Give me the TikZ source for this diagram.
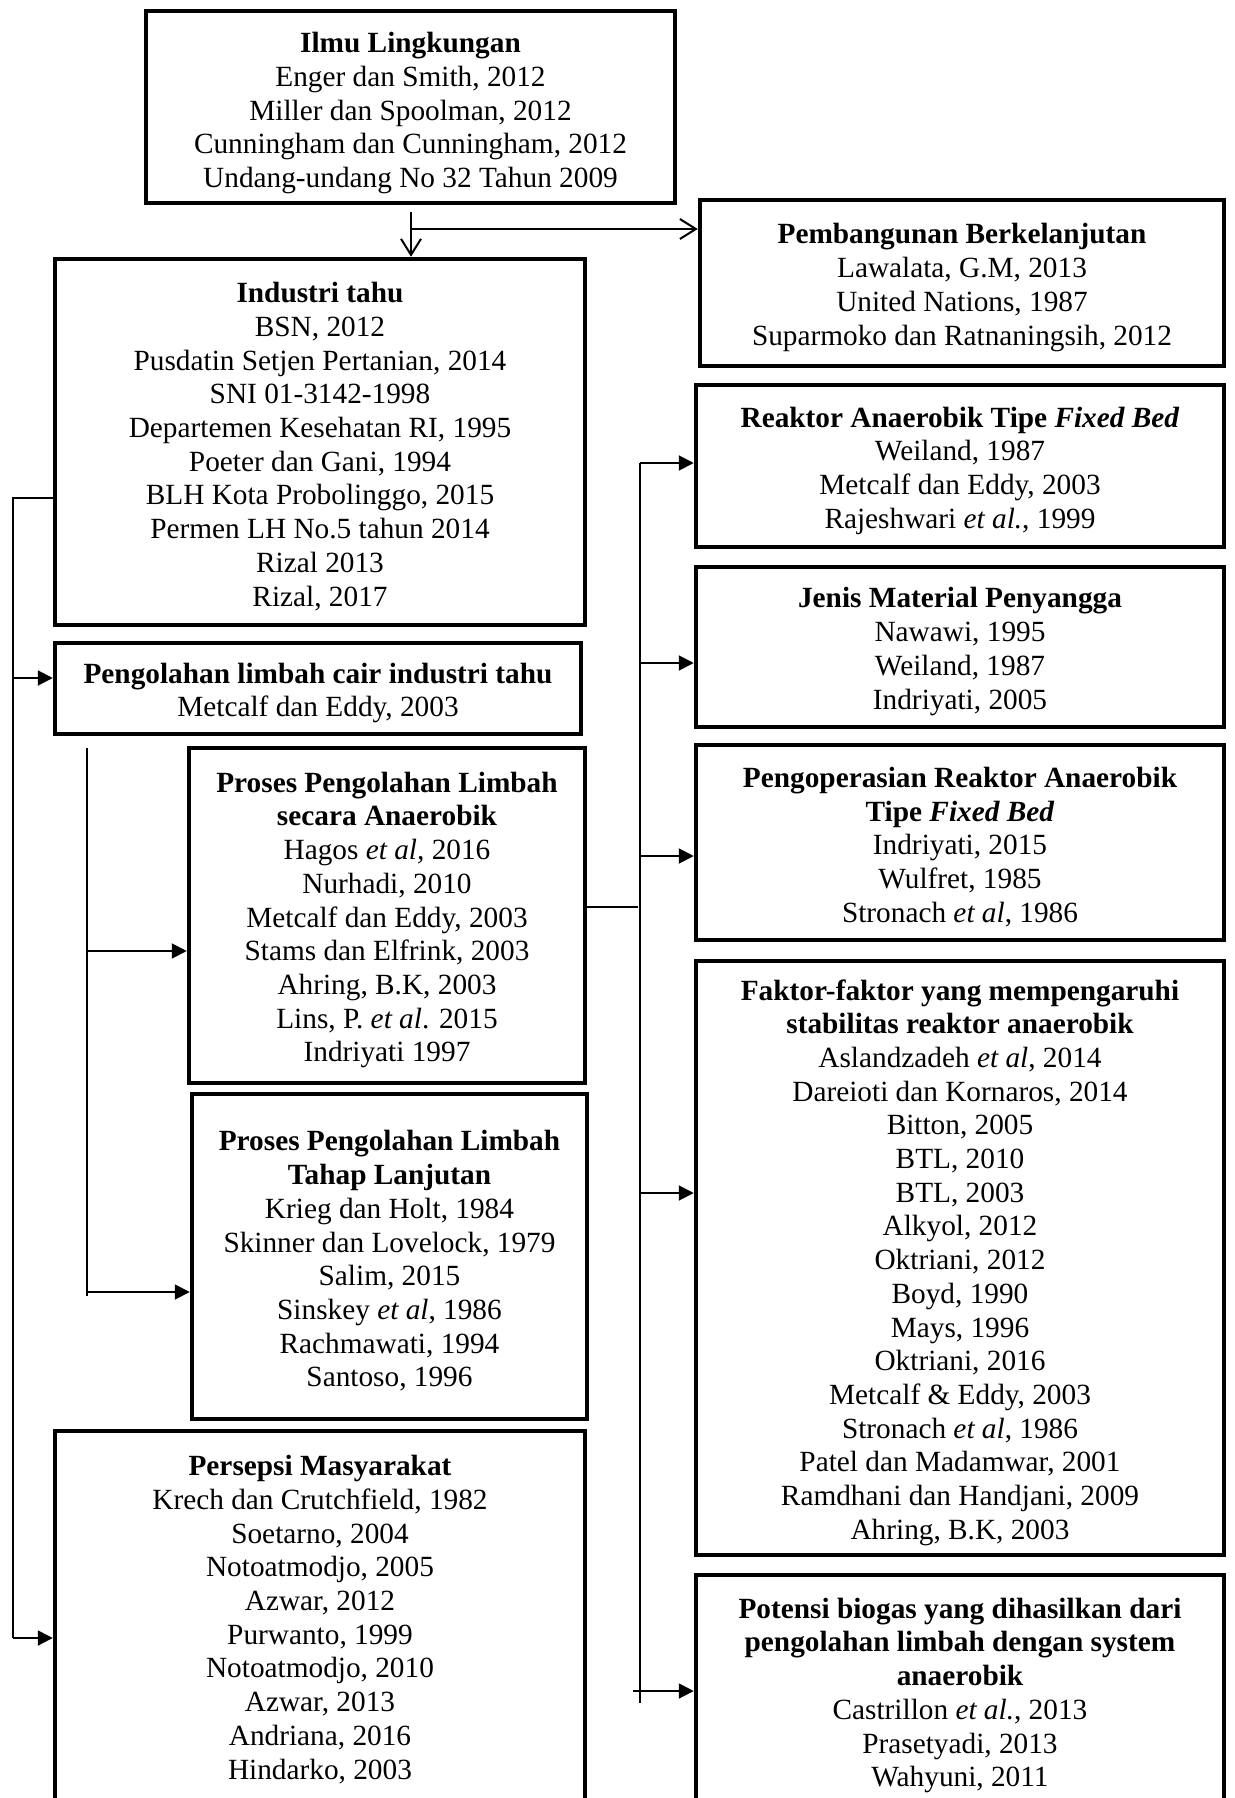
\documentclass[tikz,border=0pt]{standalone}
\usepackage{fontspec}
\setmainfont{Liberation Serif}
\usetikzlibrary{arrows.meta}

\tikzset{
  frame/.style={draw, line width=4.5pt, inner sep=0pt},
  reftext/.style={inner sep=0pt, align=center, yshift=-4.5pt,
    font=\fontsize{29.3}{33.7}\selectfont},
  link/.style={line width=2pt},
  solidarrow/.style={link, -{Triangle[length=15pt,width=15pt]}},
  openarrow/.style={link, -{Straight Barb[length=16pt,width=20pt,line width=2pt]}}
}

\begin{document}
\begin{tikzpicture}[x=1pt,y=-1pt]
\useasboundingbox (0,0) rectangle (1234,1798);
\clip (0,0) rectangle (1234,1798);

% top level
\node[frame, minimum width=529pt, minimum height=192pt] (ilmu) at (410.5,107) {};
\node[reftext, yshift=-1.5pt] (ilmu-t) at (ilmu.center)
  {\textbf{Ilmu Lingkungan}\\Enger dan Smith, 2012\\Miller dan Spoolman, 2012\\
   Cunningham dan Cunningham, 2012\\Undang-undang No 32 Tahun 2009};

\node[frame, minimum width=524pt, minimum height=166pt] (pemb) at (962,283) {};
\node[reftext] (pemb-t) at (pemb.center)
  {\textbf{Pembangunan Berkelanjutan}\\Lawalata, G.M, 2013\\United Nations, 1987\\
   Suparmoko dan Ratnaningsih, 2012};

% left column
\node[frame, minimum width=530pt, minimum height=366pt] (ind) at (320,442) {};
\node[reftext] (ind-t) at (ind.center)
  {\textbf{Industri tahu}\\BSN, 2012\\Pusdatin Setjen Pertanian, 2014\\SNI 01-3142-1998\\
   Departemen Kesehatan RI, 1995\\Poeter dan Gani, 1994\\BLH Kota Probolinggo, 2015\\
   Permen LH No.5 tahun 2014\\Rizal 2013\\Rizal, 2017};

\node[frame, minimum width=526pt, minimum height=91pt] (peng) at (318,688.5) {};
\node[reftext] (peng-t) at (peng.center)
  {\textbf{Pengolahan limbah cair industri tahu}\\Metcalf dan Eddy, 2003};

\node[frame, minimum width=396pt, minimum height=335pt] (anae) at (387,915.5) {};
\node[reftext] (anae-t) at (anae.center)
  {\textbf{Proses Pengolahan Limbah}\\\textbf{secara Anaerobik}\\Hagos \textit{et al,} 2016\\
   Nurhadi, 2010\\Metcalf dan Eddy, 2003\\Stams dan Elfrink, 2003\\Ahring, B.K, 2003\\
   Lins, P. \textit{et al}. 2015\\Indriyati 1997};

\node[frame, minimum width=395pt, minimum height=325pt] (lanj) at (389.5,1256.5) {};
\node[reftext] (lanj-t) at (lanj.center)
  {\textbf{Proses Pengolahan Limbah}\\\textbf{Tahap Lanjutan}\\Krieg dan Holt, 1984\\
   Skinner dan Lovelock, 1979\\Salim, 2015\\Sinskey \textit{et al}, 1986\\
   Rachmawati, 1994\\Santoso, 1996};

\node[frame, minimum width=530pt, minimum height=372pt] (pers) at (320,1617) {};
\node[reftext, yshift=2pt] (pers-t) at (pers.center)
  {\textbf{Persepsi Masyarakat}\\Krech dan Crutchfield, 1982\\Soetarno, 2004\\
   Notoatmodjo, 2005\\Azwar, 2012\\Purwanto, 1999\\Notoatmodjo, 2010\\Azwar, 2013\\
   Andriana, 2016\\Hindarko, 2003};

% right column
\node[frame, minimum width=528pt, minimum height=162pt] (fixb) at (960,466) {};
\node[reftext] (fixb-t) at (fixb.center)
  {\textbf{Reaktor Anaerobik Tipe \textit{Fixed Bed}}\\Weiland, 1987\\Metcalf dan Eddy, 2003\\
   Rajeshwari \textit{et al.}, 1999};

\node[frame, minimum width=528pt, minimum height=160pt] (jenis) at (960,647) {};
\node[reftext] (jenis-t) at (jenis.center)
  {\textbf{Jenis Material Penyangga}\\Nawawi, 1995\\Weiland, 1987\\Indriyati, 2005};

\node[frame, minimum width=528pt, minimum height=195pt] (pengop) at (960,842.5) {};
\node[reftext] (pengop-t) at (pengop.center)
  {\textbf{Pengoperasian Reaktor Anaerobik}\\\textbf{Tipe \textit{Fixed Bed}}\\
   Indriyati, 2015\\Wulfret, 1985\\Stronach \textit{et al}, 1986};

\node[frame, minimum width=528pt, minimum height=594pt] (faktor) at (960,1258) {};
\node[reftext] (faktor-t) at (faktor.center)
  {\textbf{Faktor-faktor yang mempengaruhi}\\\textbf{stabilitas reaktor anaerobik}\\
   Aslandzadeh \textit{et al}, 2014\\Dareioti dan Kornaros, 2014\\Bitton, 2005\\
   BTL, 2010\\BTL, 2003\\Alkyol, 2012\\Oktriani, 2012\\Boyd, 1990\\Mays, 1996\\
   Oktriani, 2016\\Metcalf \& Eddy, 2003\\Stronach \textit{et al}, 1986\\
   Patel dan Madamwar, 2001\\Ramdhani dan Handjani, 2009\\Ahring, B.K, 2003};

\node[frame, minimum width=528pt, minimum height=232pt] (potensi) at (960,1691) {};
\node[reftext] (potensi-t) at (potensi.center)
  {\textbf{Potensi biogas yang dihasilkan dari}\\\textbf{pengolahan limbah dengan system}\\
   \textbf{anaerobik}\\Castrillon \textit{et al.}, 2013\\Prasetyadi, 2013\\Wahyuni, 2011};

% split below the top box
\coordinate (split) at (411,212);
\coordinate (tee) at (411,229);
\draw[openarrow] (split) -- (split |- ind.north);
\draw[openarrow] (tee) -- (tee -| pemb.west);

% left trunk
\coordinate (ltop) at (13,498);
\coordinate (lbot) at (13,1638);
\draw[link] (ltop -| ind.west) -- (ltop) -- (lbot);
\draw[solidarrow] (13,678) -- (13,678 -| peng.west);
\draw[solidarrow] (lbot) -- (lbot -| pers.west);

% inner left trunk
\coordinate (itop) at (87,748);
\coordinate (ibot) at (87,1296);
\draw[link] (itop) -- (ibot);
\draw[solidarrow] (87,951) -- (87,951 -| anae.west);
\draw[solidarrow] (87,1292) -- (87,1292 -| lanj.west);

% right trunk
\coordinate (rtop) at (640,463);
\coordinate (rbot) at (640,1703);
\draw[link] (anae.east |- 0,907) -- (638,907);
\draw[link] (rtop) -- (rbot);
\draw[solidarrow] (rtop) -- (rtop -| fixb.west);
\draw[solidarrow] (640,663) -- (640,663 -| jenis.west);
\draw[solidarrow] (640,856) -- (640,856 -| pengop.west);
\draw[solidarrow] (640,1193) -- (640,1193 -| faktor.west);
\draw[solidarrow] (633,1691) -- (633,1691 -| potensi.west);
\end{tikzpicture}
\end{document}
